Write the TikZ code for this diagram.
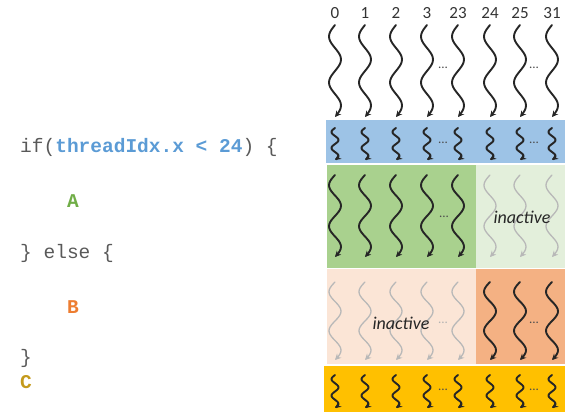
\documentclass[tikz,border=0pt]{standalone}
\usepackage{fontspec}
\setmainfont{Carlito}
\setsansfont{Carlito}
\setmonofont{Liberation Mono}
\usepackage{xcolor}
\usepackage{tikz}
\usetikzlibrary{arrows.meta}

\definecolor{warpblue}{HTML}{9DC3E6}
\definecolor{pathA}{HTML}{A9D18E}
\definecolor{pathAoff}{HTML}{E3EFDB}
\definecolor{pathB}{HTML}{F4B183}
\definecolor{pathBoff}{HTML}{FBE5D6}
\definecolor{joinC}{HTML}{FFC000}
\definecolor{codegray}{HTML}{595959}
\definecolor{codeblue}{HTML}{5B9BD5}
\definecolor{codegreen}{HTML}{70AD47}
\definecolor{codeorange}{HTML}{ED7D31}
\definecolor{codegold}{HTML}{C49A1C}

% wavy thread: [style] x, top, bottom, amplitude
\newcommand\wthread[5][]{%
  \draw[thread,#1] plot[domain=0:1, samples=41, smooth]
    ({#2-#5*sin(720*\x)}, {#3+(#4-#3)*\x});}

\begin{document}
\begin{tikzpicture}[x=1pt, y=-1pt,
  thread/.style={line width=1.9pt, black!85, line cap=round,
                 -{Stealth[length=6pt,width=6pt]}},
  idle/.style={line width=1.3pt, black!28},
  tid/.style={font=\fontsize{17}{18}\selectfont, text=black!80, inner sep=0pt},
  code/.style={anchor=west, inner sep=0pt, text=codegray,
               font=\fontsize{19.5}{20}\selectfont\ttfamily},
  dots/.style={font=\fontsize{13}{14}\selectfont, text=black!70, inner sep=0pt},
  note/.style={font=\fontsize{18}{19}\selectfont\itshape, text=black!85, inner sep=1pt}
]
  \useasboundingbox (0,0) rectangle (565,412);

  % Warp bands
  \fill[warpblue] (326,120) rectangle (565,163);
  \fill[pathA]    (327,165) rectangle (476,268);
  \fill[pathAoff] (476,165) rectangle (565,268);
  \fill[pathBoff] (327,269) rectangle (476,364);
  \fill[pathB]    (476,269) rectangle (565,364);
  \fill[joinC]    (324,366) rectangle (565,412);

  % Threads of the warp
  \foreach \cx/\lab in {335/0,365/1,396/2,427/3,458/23,490/24,520/25,552/31}{
    \node[tid] (t\lab) at (\cx,13) {\lab};
    \wthread{\cx}{25}{117}{6}
    \wthread{\cx}{128}{160}{3.5}
    \wthread{\cx}{375}{408}{3.5}
  }
  % Branch A
  \foreach \cx in {335,365,396,427,458}{
    \wthread{\cx}{175}{257}{6}
    \wthread[idle]{\cx}{282}{360}{6}
  }
  % Branch B
  \foreach \cx in {490,520,552}{
    \wthread[idle]{\cx}{175}{257}{6}
    \wthread{\cx}{282}{360}{6}
  }

  % Ellipses and labels
  \node[dots] (d1) at (443,68)  {...};
  \node[dots] (d2) at (534,68)  {...};
  \node[dots] (d3) at (443,143) {...};
  \node[dots] (d4) at (534,143) {...};
  \node[dots] (d5) at (444,217) {...};
  \node[dots, text=black!30] (d6) at (443,323) {...};
  \node[dots] (d7) at (534,323) {...};
  \node[dots] (d8) at (443,390) {...};
  \node[dots] (d9) at (534,390) {...};
  \node[note] (offA) at (522,217) {inactive};
  \node[note] (offB) at (401,323) {inactive};

  % Source code
  \node[code] (cif)   at (20,147) {if(\textbf{\color{codeblue}threadIdx.x < 24}) \{};
  \node[code] (ca)    at (67,201) {\textbf{\color{codegreen}A}};
  \node[code] (celse) at (20,253) {\} else \{};
  \node[code] (cb)    at (67,307) {\textbf{\color{codeorange}B}};
  \node[code] (cend)  at (20,358) {\}};
  \node[code] (cc)    at (20,382) {\textbf{\color{codegold}C}};
\end{tikzpicture}
\end{document}
